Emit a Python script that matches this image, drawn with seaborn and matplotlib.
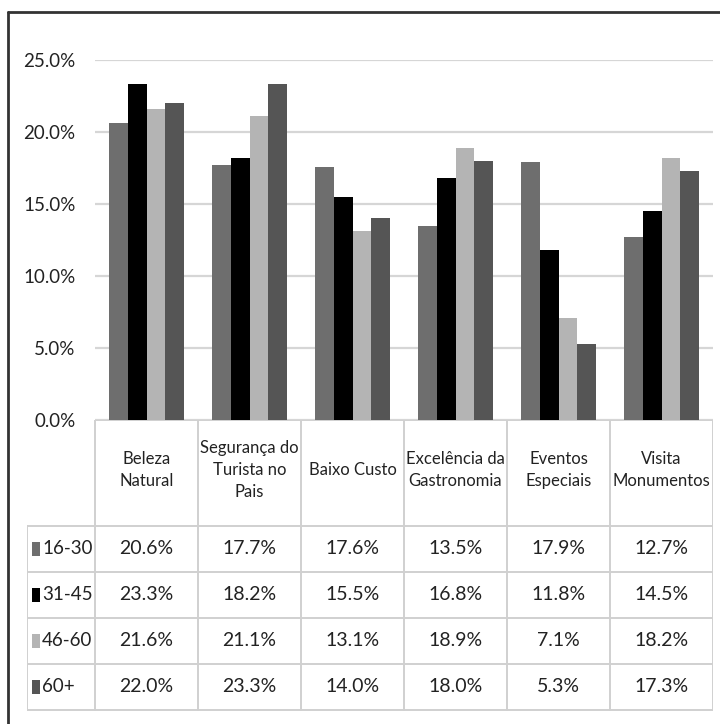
import pandas as pd
import matplotlib.pyplot as plt
import seaborn as sns
from matplotlib.patches import Rectangle
from matplotlib.lines import Line2D

# data
fatores = ['Beleza\nNatural', 'Segurança do\nTurista no\nPais', 'Baixo Custo',
           'Excelência da\nGastronomia', 'Eventos\nEspeciais', 'Visita\nMonumentos']
faixas = ['16-30', '31-45', '46-60', '60+']
v_16_30 = [20.6, 17.7, 17.6, 13.5, 17.9, 12.7]
v_31_45 = [23.3, 18.2, 15.5, 16.8, 11.8, 14.5]
v_46_60 = [21.6, 21.1, 13.1, 18.9, 7.1, 18.2]
v_60 = [22.0, 23.3, 14.0, 18.0, 5.3, 17.3]
cores = ['#6e6e6e', '#000000', '#b4b4b4', '#555555']

valores = [v_16_30, v_31_45, v_46_60, v_60]
rows = []
for faixa, vals in zip(faixas, valores):
    for f, v in zip(fatores, vals):
        rows.append({'fator': f, 'idade': faixa, 'valor': v})
df = pd.DataFrame(rows)

sns.set_style('white')
plt.rcParams['font.family'] = ['Lato', 'DejaVu Sans']
W, H = 720, 724
fig = plt.figure(figsize=(7.2, 7.24), dpi=100)

def fx(px):
    return px / W

def fy(py):
    return 1 - py / H

# bar chart area
ax = fig.add_axes([fx(95), fy(420), fx(713) - fx(95), fy(60) - fy(420)])
sns.barplot(data=df, x='fator', y='valor', hue='idade', palette=cores,
            width=0.72, saturation=1, legend=False, ax=ax, zorder=3,
            linewidth=0, edgecolor='none')
ax.set_xlim(-0.5, 5.5)
ax.set_ylim(0, 25)
ax.set_yticks([0, 5, 10, 15, 20, 25])
ax.set_yticklabels([f'{t:.1f}%' for t in [0, 5, 10, 15, 20, 25]], fontsize=13.5, color='#222222')
ax.tick_params(axis='y', length=0, pad=14)
ax.set_xticks([])
ax.set_xlabel('')
ax.set_ylabel('')
ax.yaxis.grid(True, color='#d6d6d6', linewidth=1.6, zorder=0)
for s in ax.spines.values():
    s.set_visible(False)

# data table below
tb = fig.add_axes([fx(27), fy(712), fx(713) - fx(27), fy(420) - fy(712)])
x_left = -0.5 - (95 - 27) / 103.0
tb.set_xlim(x_left, 5.5)
tb.set_ylim(712, 420)
tb.axis('off')
linha = dict(color='#d0d0d0', linewidth=1.4)
y_rows = [420, 526, 572, 618, 664, 710]
# horizontal lines
tb.plot([-0.5, 5.5], [420, 420], **linha)
for yy in y_rows[1:]:
    tb.plot([x_left, 5.5], [yy, yy], **linha)
# vertical lines
for i in range(7):
    tb.plot([i - 0.5, i - 0.5], [420, 710], **linha)
tb.plot([x_left, x_left], [526, 710], **linha)

for i, f in enumerate(fatores):
    tb.text(i, 470, f, ha='center', va='center', fontsize=12, color='#222222',
            linespacing=1.45)

for r, (faixa, vals, cor) in enumerate(zip(faixas, valores, cores)):
    yc = (y_rows[r + 1] + y_rows[r + 2]) / 2
    tb.add_patch(Rectangle((x_left + 5 / 103.0, yc - 7), 8 / 103.0, 14,
                           facecolor=cor, edgecolor='none'))
    tb.text(x_left + 15 / 103.0, yc, faixa, ha='left', va='center', fontsize=13.5,
            color='#222222')
    for i, v in enumerate(vals):
        tb.text(i, yc, f'{v:.1f}%', ha='center', va='center', fontsize=14,
                color='#222222')

# outer frame (top and left, as in the scan)
fig.add_artist(Line2D([fx(8), 1], [fy(12), fy(12)], color='#333333', linewidth=2))
fig.add_artist(Line2D([fx(8), fx(8)], [fy(12), 0], color='#333333', linewidth=2))

fig.savefig('out.png', dpi=100)
